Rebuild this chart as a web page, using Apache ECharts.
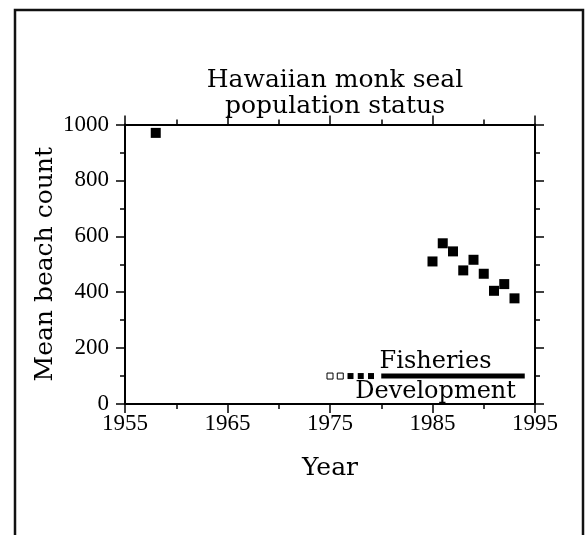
<!DOCTYPE html>
<html>
<head>
<meta charset="utf-8">
<script src="https://cdn.jsdelivr.net/npm/echarts@6/dist/echarts.min.js"></script>
<style>
  html, body { margin: 0; padding: 0; background: #fff; }
  #chart { width: 588px; height: 535px; }
</style>
</head>
<body>
<div id="chart"></div>
<script>
// ---- data ----
const titleLines = ['Hawaiian monk seal', 'population status'];
const xName = 'Year';
const yName = 'Mean beach count';
const xMin = 1955, xMax = 1995, xStep = 10;
const yMin = 0, yMax = 1000, yStep = 200;
const surveyYears = [1958, 1985, 1986, 1987, 1988, 1989, 1990, 1991, 1992, 1993];
const beachCounts = [970, 510, 575, 546, 478, 516, 466, 405, 429, 378];
const fisheriesLevel = 100;
const fisheriesOpenYears = [1975, 1976];
const fisheriesFilledYears = [1977, 1978, 1979];
const fisheriesLineYears = [1980, 1994];
const fisheriesLabelYear = 1985.3;
const fisheriesLabels = ['Fisheries', 'Development'];

const serif = 'DejaVu Serif';
const numFont = 'Liberation Serif';
const ink = '#000';

const chart = echarts.init(document.getElementById('chart'), null, { renderer: 'canvas' });

function axisCommon(extra) {
  return Object.assign({
    type: 'value',
    axisLine: { show: true, onZero: false, lineStyle: { color: ink, width: 2 } },
    axisTick: { show: true, inside: false, length: 9, lineStyle: { color: ink, width: 1.5 } },
    minorTick: { show: true, splitNumber: 2, length: 5, lineStyle: { color: ink, width: 1.5 } },
    splitLine: { show: false },
    minorSplitLine: { show: false }
  }, extra);
}
const plain = v => String(v);

const option = {
  backgroundColor: '#fff',
  animation: false,
  title: {
    text: titleLines.join('\n'),
    left: 330,
    top: 62,
    textAlign: 'center',
    textStyle: { fontFamily: serif, fontSize: 25, fontWeight: 'normal', color: '#000', lineHeight: 26 }
  },
  graphic: [{
    type: 'rect',
    shape: { x: 15, y: 10, width: 568, height: 600 },
    style: { fill: 'none', stroke: '#111', lineWidth: 2.5 },
    silent: true
  }],
  grid: { left: 125, right: 53, top: 124.5, bottom: 131, containLabel: false },
  xAxis: [
    axisCommon({
      position: 'bottom', min: xMin, max: xMax, interval: xStep,
      name: xName, nameLocation: 'middle', nameGap: 52, nameMoveOverlap: false,
      nameTextStyle: { fontFamily: serif, fontSize: 25, color: '#000' },
      axisLabel: { show: true, margin: 8, fontFamily: numFont, fontSize: 23, color: '#000', formatter: plain }
    }),
    axisCommon({
      position: 'top', min: xMin, max: xMax, interval: xStep,
      axisLabel: { show: false }
    })
  ],
  yAxis: [
    axisCommon({
      position: 'left', min: yMin, max: yMax, interval: yStep,
      name: yName, nameLocation: 'middle', nameGap: 67, nameRotate: 90, nameMoveOverlap: false,
      nameTextStyle: { fontFamily: serif, fontSize: 25, color: '#000' },
      axisLabel: { show: true, margin: 16, fontFamily: numFont, fontSize: 23, color: '#000', formatter: plain }
    }),
    axisCommon({
      position: 'right', min: yMin, max: yMax, interval: yStep,
      axisLabel: { show: false }
    })
  ],
  series: [
    {
      type: 'scatter',
      data: surveyYears.map((y, i) => [y, beachCounts[i]]),
      symbol: 'rect', symbolSize: 10,
      itemStyle: { color: ink, opacity: 1 }
    },
    {
      type: 'scatter',
      data: fisheriesOpenYears.map(y => [y, fisheriesLevel]),
      symbol: 'rect', symbolSize: 6,
      itemStyle: { color: '#fff', borderColor: ink, borderWidth: 1, opacity: 1 }
    },
    {
      type: 'scatter',
      data: fisheriesFilledYears.map(y => [y, fisheriesLevel]),
      symbol: 'rect', symbolSize: 6,
      itemStyle: { color: ink, opacity: 1 }
    },
    {
      type: 'line',
      data: fisheriesLineYears.map(y => [y, fisheriesLevel]),
      showSymbol: false, symbol: 'none',
      lineStyle: { color: ink, width: 5, cap: 'butt', opacity: 1 }
    },
    {
      type: 'scatter',
      data: [[fisheriesLabelYear, fisheriesLevel]],
      symbolSize: 0,
      itemStyle: { opacity: 1 },
      label: { show: true, position: 'top', distance: 2, formatter: fisheriesLabels[0],
               fontFamily: serif, fontSize: 24, color: '#000', opacity: 1 }
    },
    {
      type: 'scatter',
      data: [[fisheriesLabelYear, fisheriesLevel]],
      symbolSize: 0,
      itemStyle: { opacity: 1 },
      label: { show: true, position: 'bottom', distance: 4, formatter: fisheriesLabels[1],
               fontFamily: serif, fontSize: 24, color: '#000', opacity: 1 }
    }
  ]
};
chart.setOption(option);
</script>
</body>
</html>
